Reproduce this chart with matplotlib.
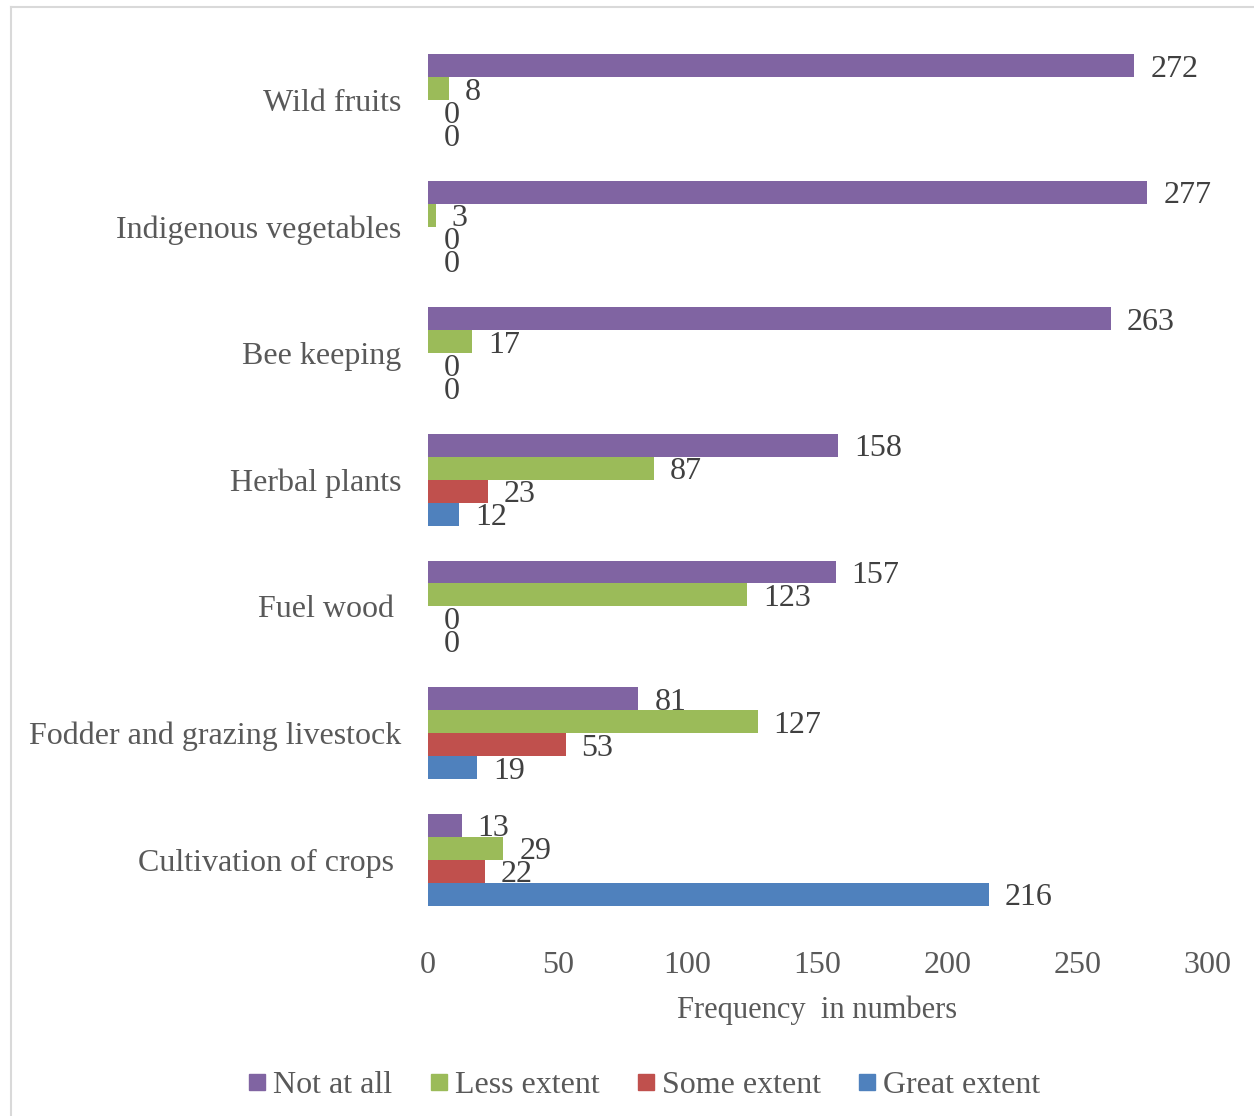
import matplotlib
matplotlib.use("Agg")
import matplotlib.pyplot as plt
from matplotlib.lines import Line2D
import numpy as np

categories = ["Wild fruits", "Indigenous vegetables", "Bee keeping", "Herbal plants",
              "Fuel wood ", "Fodder and grazing livestock", "Cultivation of crops "]
series_names = ["Not at all", "Less extent", "Some extent", "Great extent"]
not_at_all = [272, 277, 263, 158, 157, 81, 13]
less_extent = [8, 3, 17, 87, 123, 127, 29]
some_extent = [0, 0, 0, 23, 0, 53, 22]
great_extent = [0, 0, 0, 12, 0, 19, 216]
colors = ["#8064A2", "#9BBB59", "#C0504D", "#4F81BD"]
xticks = [0, 50, 100, 150, 200, 250, 300]

plt.rcParams['font.family'] = ['Liberation Serif', 'DejaVu Serif']

fig = plt.figure(figsize=(12.54, 11.16), dpi=100)
ax = fig.add_axes([428/1254, 1-923/1116, (1207-428)/1254, (923-36.7)/1116])

n = len(categories)
ypos = np.arange(n)[::-1]
h = 0.1815
offsets = [1.5*h, 0.5*h, -0.5*h, -1.5*h]
all_series = [not_at_all, less_extent, some_extent, great_extent]
for vals, off, col, name in zip(all_series, offsets, colors, series_names):
    ax.barh(ypos + off, vals, height=h, color=col, label=name)
    for yy, v in zip(ypos + off, vals):
        ax.annotate(str(v), xy=(v, yy), xytext=(11.5, -2.6), textcoords='offset points',
                    ha='left', va='center', fontsize=23, color='#404040')

ax.set_xlim(0, 300)
ax.set_ylim(-0.5, n - 0.5)
ax.set_xticks(xticks)
ax.set_xticklabels([str(t) for t in xticks])
ax.set_yticks(ypos)
ax.set_yticklabels(categories)
ax.tick_params(axis='both', length=0, labelsize=23, colors='#595959')
ax.tick_params(axis='x', pad=20)
ax.tick_params(axis='y', pad=19)
for s in ax.spines.values():
    s.set_visible(False)
ax.set_xlabel("Frequency  in numbers", fontsize=22, color='#595959', labelpad=11)

handles = [Line2D([0], [0], marker='s', linestyle='none', markersize=11,
                  markerfacecolor=c, markeredgecolor=c) for c in colors]
fig.legend(handles, series_names, loc='center', bbox_to_anchor=(641/1254, 1-1085/1116),
           ncol=4, frameon=False, fontsize=23, labelcolor='#595959',
           handletextpad=0.0, columnspacing=0.95, handlelength=1.0)

fig.add_artist(Line2D([11/1254, 11/1254], [0, 1-7/1116], transform=fig.transFigure,
                      color='#D9D9D9', linewidth=1.5))
fig.add_artist(Line2D([11/1254, 1], [1-7/1116, 1-7/1116], transform=fig.transFigure,
                      color='#D9D9D9', linewidth=1.5))

fig.savefig("out.png", dpi=100)
